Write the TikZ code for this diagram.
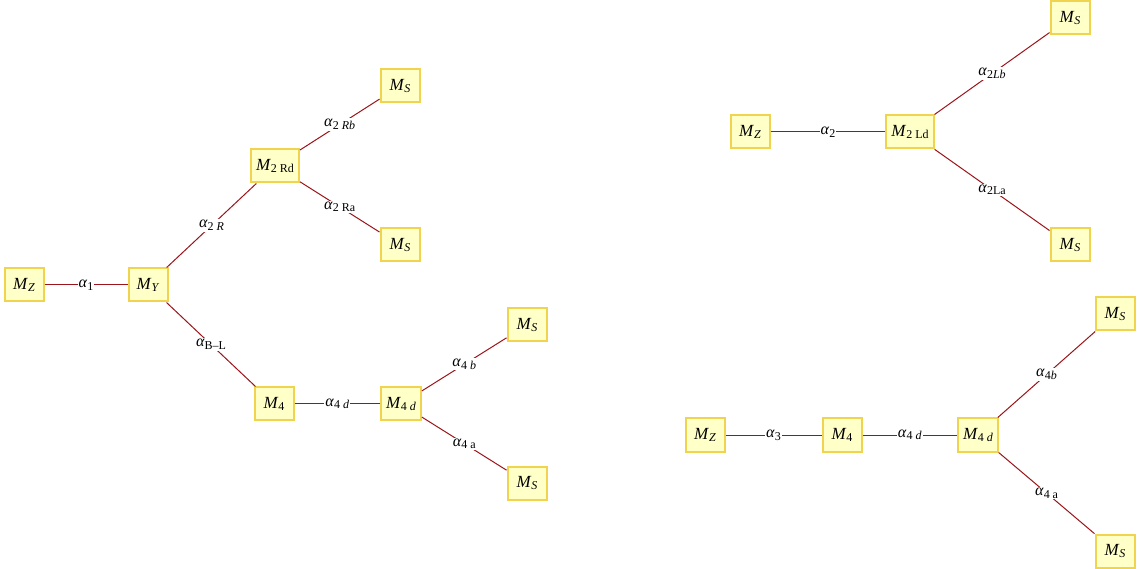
\documentclass[tikz,border=0pt]{standalone}
\usepackage{fontspec}
\setmainfont{Liberation Serif}
\newcommand{\sbs}[1]{\raisebox{-0.35ex}{\fontsize{12}{13}\selectfont #1}}
\newcommand{\mM}[1]{\textit{M}\sbs{#1}}
\newcommand{\mA}[1]{\textit{α}\sbs{#1}}
\begin{document}
\begin{tikzpicture}[x=1pt,y=-1pt,
  vbox/.style={draw={rgb,255:red,240;green,212;blue,80},line width=2pt,fill={rgb,255:red,255;green,255;blue,200},minimum width=39pt,minimum height=33pt,inner xsep=5pt,font=\fontsize{17}{19}\selectfont},
  edge/.style={draw={rgb,255:red,155;green,20;blue,25},line width=1pt},
  lab/.style={fill=white,inner sep=1pt,font=\fontsize{16}{18}\selectfont}]
\useasboundingbox (0,0) rectangle (1144,569);
% left graph
\node[vbox] (z1) at (24,285) {\mM{\textit{Z}}};
\node[vbox] (y1) at (148,285) {\mM{\textit{Y}}};
\node[vbox] (rd) at (275,166) {\mM{2 Rd}};
\node[vbox] (s1) at (400,86) {\mM{\textit{S}}};
\node[vbox] (s2) at (400,245) {\mM{\textit{S}}};
\node[vbox] (f1) at (274,404) {\mM{4}};
\node[vbox] (fd1) at (401,404) {\mM{4 \textit{d}}};
\node[vbox] (s3) at (527,325) {\mM{\textit{S}}};
\node[vbox] (s4) at (527,483) {\mM{\textit{S}}};
\draw[edge] (z1) -- node[lab] {\mA{1}} (y1);
\draw[edge] (y1) -- node[lab] {\mA{2 \textit{R}}} (rd);
\draw[edge] (rd) -- node[lab] {\mA{2 \textit{Rb}}} (s1);
\draw[edge] (rd) -- node[lab] {\mA{2 Ra}} (s2);
\draw[edge] (y1) -- node[lab] {\mA{B\textendash L}} (f1);
\draw[edge] (f1) -- node[lab] {\mA{4 \textit{d}}} (fd1);
\draw[edge] (fd1) -- node[lab] {\mA{4 \textit{b}}} (s3);
\draw[edge] (fd1) -- node[lab] {\mA{4 a}} (s4);
% right top graph
\node[vbox] (z2) at (750,132) {\mM{\textit{Z}}};
\node[vbox] (ld) at (910,132) {\mM{2 Ld}};
\node[vbox] (s5) at (1070,18) {\mM{\textit{S}}};
\node[vbox] (s6) at (1070,245) {\mM{\textit{S}}};
\draw[edge] (z2) -- node[lab] {\mA{2}} (ld);
\draw[edge] (ld) -- node[lab] {\mA{2\textit{Lb}}} (s5);
\draw[edge] (ld) -- node[lab] {\mA{2La}} (s6);
% right bottom graph
\node[vbox] (z3) at (705,435) {\mM{\textit{Z}}};
\node[vbox] (f2) at (842,435) {\mM{4}};
\node[vbox] (fd2) at (978,435) {\mM{4 \textit{d}}};
\node[vbox] (s7) at (1115,314) {\mM{\textit{S}}};
\node[vbox] (s8) at (1115,551) {\mM{\textit{S}}};
\draw[edge] (z3) -- node[lab] {\mA{3}} (f2);
\draw[edge] (f2) -- node[lab] {\mA{4 \textit{d}}} (fd2);
\draw[edge] (fd2) -- node[lab] {\mA{4\textit{b}}} (s7);
\draw[edge] (fd2) -- node[lab] {\mA{4 a}} (s8);
\end{tikzpicture}
\end{document}
